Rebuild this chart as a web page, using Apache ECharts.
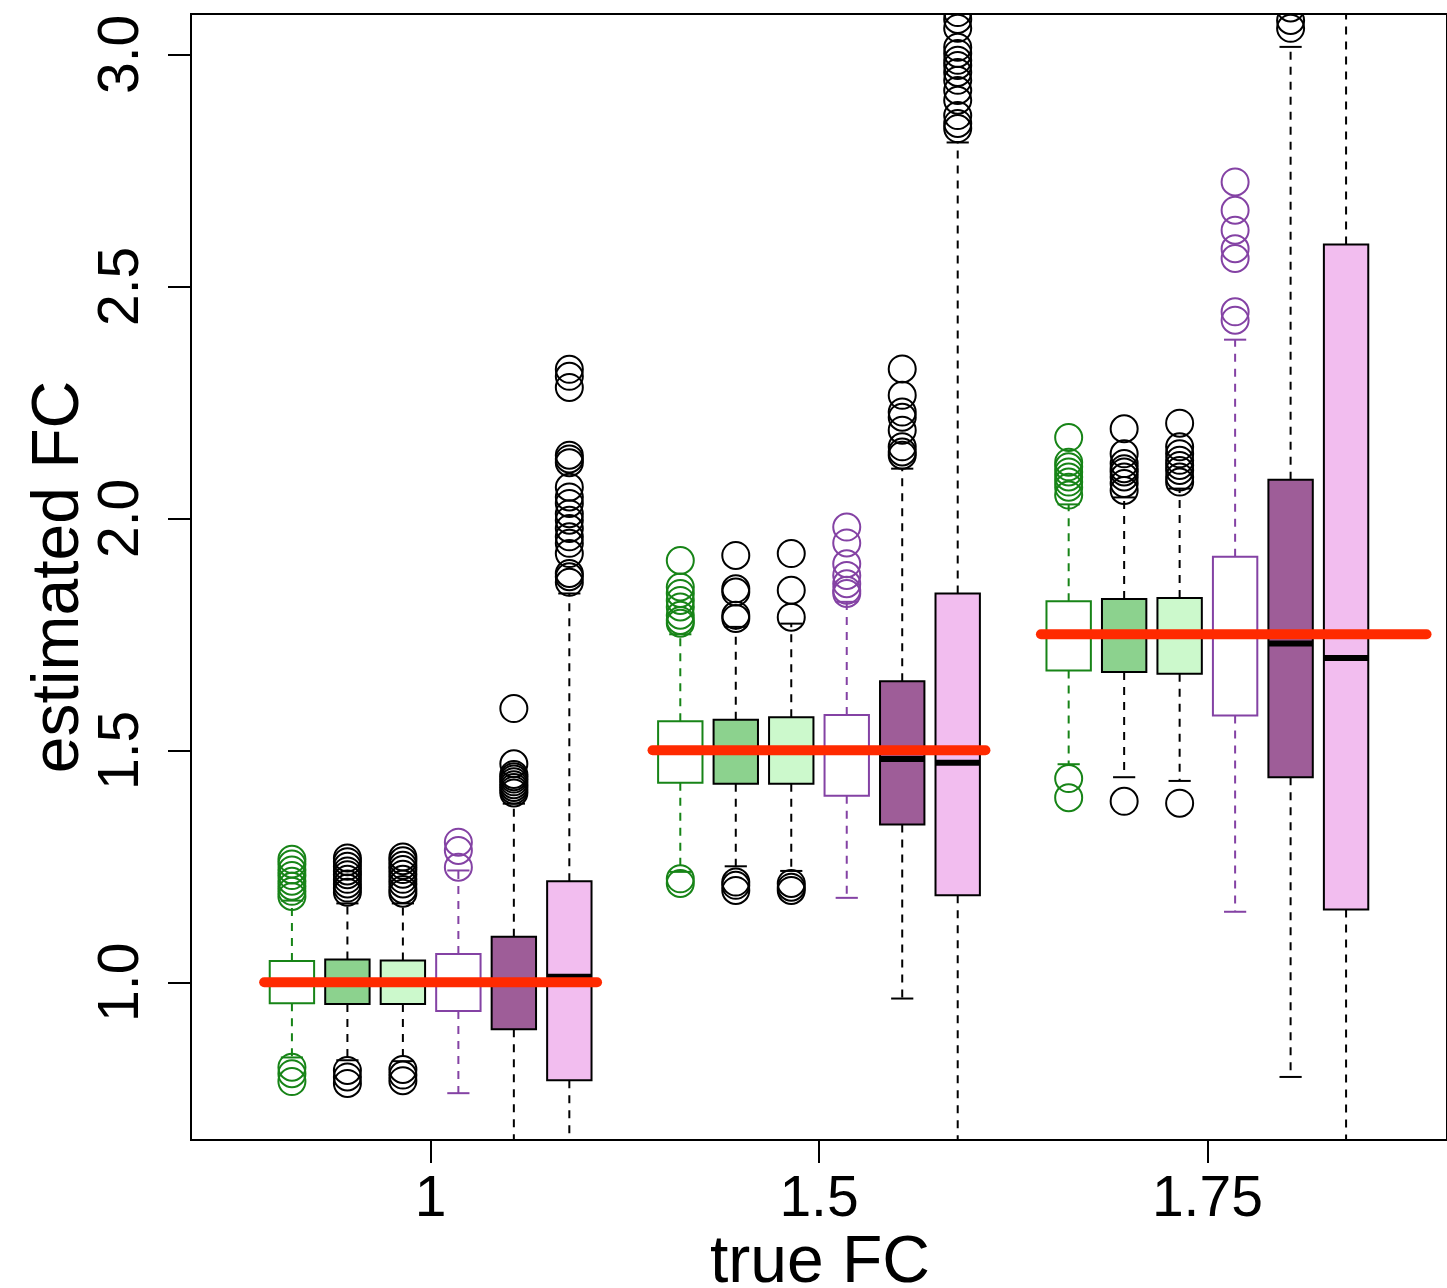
<!DOCTYPE html>
<html>
<head>
<meta charset="utf-8">
<title>estimated FC vs true FC</title>
<script src="https://cdn.jsdelivr.net/npm/echarts@6/dist/echarts.min.js"></script>
<style>
  html, body { margin: 0; padding: 0; background: #fff; }
  #chart { width: 1447px; height: 1288px; }
</style>
</head>
<body>
<div id="chart"></div>
<script>
// Group (true fold change) labels and the true values drawn as red reference bars
const groupLabels = ['1', '1.5', '1.75'];
const trueFC = [1, 1.5, 1.75];
const yTickValues = [1, 1.5, 2, 2.5, 3];
const yTickLabels = ['1.0', '1.5', '2.0', '2.5', '3.0'];

// Box statistics per method, one row per group: [lower whisker, Q1, median, Q3, upper whisker]
const m1Stats = [[0.838, 0.955, 1.0, 1.046, 1.176], [1.238, 1.430, 1.5, 1.5625, 1.750], [1.470, 1.672, 1.75, 1.821, 2.030]];
const m2Stats = [[0.832, 0.953, 1.0, 1.049, 1.170], [1.250, 1.428, 1.5, 1.566, 1.766], [1.442, 1.669, 1.75, 1.826, 2.045]];
const m3Stats = [[0.830, 0.953, 1.0, 1.047, 1.170], [1.240, 1.428, 1.5, 1.571, 1.773], [1.434, 1.665, 1.75, 1.828, 2.064]];
const m4Stats = [[0.761, 0.938, 1.0, 1.061, 1.241], [1.182, 1.402, 1.5, 1.576, 1.820], [1.152, 1.575, 1.75, 1.917, 2.385]];
const m5Stats = [[0.600, 0.899, 1.0, 1.098, 1.385], [0.965, 1.340, 1.481, 1.649, 2.107], [0.796, 1.442, 1.730, 2.083, 3.016]];
const m6Stats = [[0.250, 0.789, 1.012, 1.218, 1.838], [0.300, 1.1875, 1.473, 1.838, 2.810], [0.200, 1.157, 1.699, 2.590, 3.900]];

// Outlying observations per method, one list per group
const m1Out = [
  [1.265, 1.255, 1.242, 1.230, 1.218, 1.207, 1.196, 1.185, 0.817, 0.803, 0.786],
  [1.909, 1.852, 1.838, 1.823, 1.809, 1.791, 1.780, 1.774, 1.223, 1.213],
  [2.174, 2.121, 2.111, 2.100, 2.089, 2.078, 2.067, 2.050, 1.439, 1.398]
];
const m2Out = [
  [1.268, 1.260, 1.250, 1.240, 1.232, 1.222, 1.212, 1.203, 1.194, 0.810, 0.796, 0.782],
  [1.920, 1.848, 1.841, 1.791, 1.784, 1.216, 1.209, 1.198],
  [2.193, 2.139, 2.118, 2.107, 2.100, 2.089, 2.075, 2.060, 1.390]
];
const m3Out = [
  [1.270, 1.262, 1.252, 1.243, 1.233, 1.222, 1.212, 1.200, 1.192, 0.812, 0.800, 0.788],
  [1.924, 1.845, 1.787, 1.213, 1.205, 1.198],
  [2.205, 2.154, 2.139, 2.125, 2.114, 2.103, 2.089, 2.078, 1.386]
];
const m4Out = [
  [1.302, 1.284, 1.248],
  [1.981, 1.947, 1.902, 1.877, 1.859, 1.845, 1.838],
  [2.725, 2.664, 2.621, 2.581, 2.560, 2.445, 2.427]
];
const m5Out = [
  [1.590, 1.471, 1.448, 1.443, 1.438, 1.432, 1.426, 1.420, 1.414, 1.408],
  [2.322, 2.265, 2.229, 2.218, 2.190, 2.154, 2.143, 2.136],
  [3.056, 3.073, 3.100]
];
const m6Out = [
  [2.321, 2.306, 2.282, 2.136, 2.128, 2.120, 2.067, 2.046, 2.032, 2.010, 1.996, 1.978, 1.960, 1.946, 1.924, 1.881, 1.874, 1.862],
  [3.090, 3.075, 3.056, 3.015, 3.002, 2.987, 2.976, 2.961, 2.944, 2.922, 2.901, 2.868, 2.851, 2.840],
  []
];

const allStats = [m1Stats, m2Stats, m3Stats, m4Stats, m5Stats, m6Stats];
const allOut = [m1Out, m2Out, m3Out, m4Out, m5Out, m6Out];

// Drawing styles per method
const GREEN = '#178417';
const PURPLE = '#8442a4';
const methodStyles = [
  { fill: '#ffffff', border: GREEN },
  { fill: '#8cd28e', border: '#000000' },
  { fill: '#ccf9cc', border: '#000000' },
  { fill: '#ffffff', border: PURPLE },
  { fill: '#9e5d98', border: '#000000' },
  { fill: '#f2bdef', border: '#000000' }
];

// Each group occupies 7 slots on the x scale: six boxes and one gap
const SLOTS = 7;
const boxPos = (g, m) => g * SLOTS + m + 1;
const groupCenter = g => g * SLOTS + 3.5;

const boxData = [];
const outData = [];
allStats.forEach((stats, m) => {
  stats.forEach((s, g) => {
    boxData.push([boxPos(g, m), s[0], s[1], s[2], s[3], s[4], m]);
  });
});
allOut.forEach((groups, m) => {
  groups.forEach((vals, g) => {
    vals.forEach(v => outData.push([boxPos(g, m), v, m]));
  });
});

// Red bars spanning each group at its true value (last one runs to the right edge)
const refData = trueFC.map((v, g) => [groupCenter(g) - 3, g === 2 ? groupCenter(g) + 3.95 : groupCenter(g) + 3, v]);

const FONT = '"Liberation Sans", Arial, Helvetica, sans-serif';

function renderBox(params, api) {
  const x = api.value(0);
  const lo = api.value(1), q1 = api.value(2), med = api.value(3), q3 = api.value(4), hi = api.value(5);
  const st = methodStyles[api.value(6)];
  const halfW = api.size([0.4, 0])[0];
  const capW = api.size([0.2, 0])[0];
  const c = api.coord([x, 0])[0];
  const yLo = api.coord([x, lo])[1], yQ1 = api.coord([x, q1])[1], yMed = api.coord([x, med])[1];
  const yQ3 = api.coord([x, q3])[1], yHi = api.coord([x, hi])[1];
  const dash = { stroke: st.border, lineWidth: 2, lineDash: [8, 7] };
  const solid = { stroke: st.border, lineWidth: 2 };
  return {
    type: 'group',
    children: [
      { type: 'line', shape: { x1: c, y1: yQ3, x2: c, y2: yHi }, style: dash },
      { type: 'line', shape: { x1: c, y1: yQ1, x2: c, y2: yLo }, style: dash },
      { type: 'line', shape: { x1: c - capW, y1: yHi, x2: c + capW, y2: yHi }, style: solid },
      { type: 'line', shape: { x1: c - capW, y1: yLo, x2: c + capW, y2: yLo }, style: solid },
      { type: 'rect', shape: { x: c - halfW, y: yQ3, width: 2 * halfW, height: yQ1 - yQ3 },
        style: { fill: st.fill, stroke: st.border, lineWidth: 2 } },
      { type: 'line', shape: { x1: c - halfW, y1: yMed, x2: c + halfW, y2: yMed },
        style: { stroke: st.border, lineWidth: 6 } }
    ]
  };
}

function renderOutlier(params, api) {
  const p = api.coord([api.value(0), api.value(1)]);
  const st = methodStyles[api.value(2)];
  return {
    type: 'circle',
    shape: { cx: p[0], cy: p[1], r: 13.5 },
    style: { fill: 'none', stroke: st.border, lineWidth: 2 }
  };
}

function renderRef(params, api) {
  const a = api.coord([api.value(0), api.value(2)]);
  const b = api.coord([api.value(1), api.value(2)]);
  return {
    type: 'line',
    shape: { x1: a[0], y1: a[1], x2: b[0], y2: b[1] },
    style: { stroke: '#ff2a00', lineWidth: 10, lineCap: 'round' }
  };
}

const chart = echarts.init(document.getElementById('chart'), null, { renderer: 'canvas' });
chart.setOption({
  animation: false,
  backgroundColor: '#ffffff',
  grid: {
    left: 191, top: 14, width: 1258, height: 1126,
    show: true, borderColor: '#000', borderWidth: 2, backgroundColor: 'transparent'
  },
  xAxis: {
    type: 'value',
    position: 'bottom',
    min: -0.819, max: 21.819,
    axisLine: { show: true, onZero: false, lineStyle: { color: '#000', width: 2 } },
    splitLine: { show: false },
    axisTick: {
      show: true, inside: false, length: 23, customValues: [groupCenter(0), groupCenter(1), groupCenter(2)],
      lineStyle: { color: '#000', width: 2 }
    },
    axisLabel: {
      customValues: [groupCenter(0), groupCenter(1), groupCenter(2)],
      formatter: v => groupLabels[Math.round((v - 3.5) / SLOTS)],
      margin: 32, fontSize: 57, fontFamily: FONT, color: '#000'
    }
  },
  yAxis: {
    type: 'value',
    position: 'left',
    min: 0.6601, max: 3.0869,
    axisLine: { show: true, onZero: false, lineStyle: { color: '#000', width: 2 } },
    splitLine: { show: false },
    axisTick: {
      show: true, inside: false, length: 23, customValues: yTickValues,
      lineStyle: { color: '#000', width: 2 }
    },
    axisLabel: {
      customValues: yTickValues,
      formatter: v => yTickLabels[yTickValues.indexOf(v)],
      rotate: 90, margin: 40, fontSize: 57, fontFamily: FONT, color: '#000'
    }
  },
  graphic: [
    { type: 'text', x: 820, y: 1264, silent: true,
      style: { text: 'true FC', fontSize: 66, fontFamily: FONT, fill: '#000', align: 'center', verticalAlign: 'middle' } },
    { type: 'text', x: 60, y: 577, rotation: Math.PI / 2, silent: true,
      style: { text: 'estimated FC', fontSize: 66, fontFamily: FONT, fill: '#000', align: 'center', verticalAlign: 'middle' } }
  ],
  series: [
    { type: 'custom', name: 'boxes', data: boxData, renderItem: renderBox, clip: true,
      encode: { x: 0, y: [1, 2, 3, 4, 5] } },
    { type: 'custom', name: 'outliers', data: outData, renderItem: renderOutlier, clip: true,
      encode: { x: 0, y: 1 } },
    { type: 'custom', name: 'true FC', data: refData, renderItem: renderRef, clip: true,
      encode: { x: [0, 1], y: 2 } }
  ]
});
</script>
</body>
</html>
